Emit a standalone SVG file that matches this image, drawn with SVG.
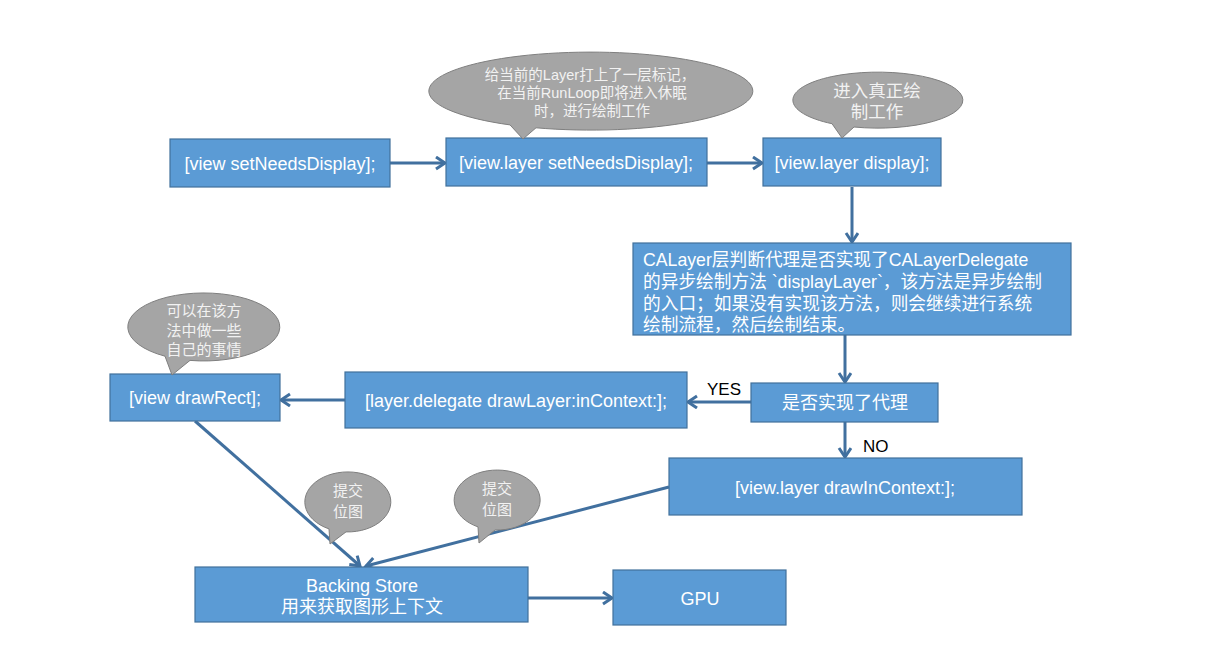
<svg xmlns="http://www.w3.org/2000/svg" width="1216" height="659" viewBox="0 0 1216 659">
<defs>
<marker id="arr" markerUnits="userSpaceOnUse" markerWidth="16" markerHeight="16" refX="11" refY="7" orient="auto">
<path d="M2,1 L11,7 L2,13" fill="none" stroke="#41709f" stroke-width="3" stroke-linejoin="miter"/>
</marker>
<style>
.box{fill:#5b9bd5;stroke:#41719c;stroke-width:1.2}
.bt{fill:#ffffff;font-family:"Liberation Sans","Noto Sans CJK SC",sans-serif;font-size:18px;text-anchor:middle}
.lt{fill:#ffffff;font-family:"Liberation Sans","Noto Sans CJK SC",sans-serif;font-size:17.7px}
.bub{fill:#a5a5a5;stroke:#7f7f7f;stroke-width:1}
.ct{fill:#f2f2f2;font-family:"Liberation Sans","Noto Sans CJK SC",sans-serif;font-size:14.5px;text-anchor:middle}
.cn{fill:none;stroke:#41709f;stroke-width:3;marker-end:url(#arr)}
.lab{fill:#000000;font-family:"Liberation Sans",sans-serif;font-size:17px}
</style>
</defs>
<rect width="1216" height="659" fill="#ffffff"/>
<g id="connectors">
<line class="cn" x1="390" y1="163" x2="445" y2="163"/>
<line class="cn" x1="707" y1="163" x2="762" y2="163"/>
<line class="cn" x1="852" y1="187" x2="852" y2="242"/>
<line class="cn" x1="845" y1="335" x2="845" y2="382"/>
<line class="cn" x1="751" y1="402" x2="688" y2="402"/>
<line class="cn" x1="845" y1="422" x2="845" y2="457"/>
<line class="cn" x1="345" y1="400" x2="281" y2="400"/>
<line class="cn" x1="195" y1="421" x2="360" y2="566"/>
<line class="cn" x1="669" y1="487" x2="366" y2="566"/>
<line class="cn" x1="528" y1="598" x2="612" y2="598"/>
<text class="lab" x="707" y="395">YES</text>
<text class="lab" x="863" y="452">NO</text>
</g>
<g id="n1">
<rect class="box" x="170" y="139" width="220" height="48"/>
<text class="bt" x="280" y="170">[view setNeedsDisplay];</text>
</g>
<g id="n2">
<rect class="box" x="446" y="138" width="261" height="48"/>
<text class="bt" x="576" y="169">[view.layer setNeedsDisplay];</text>
</g>
<g id="n3">
<rect class="box" x="763" y="138" width="178" height="48"/>
<text class="bt" x="852" y="169">[view.layer display];</text>
</g>
<g id="n4">
<rect class="box" x="633" y="243" width="438" height="92"/>
<text class="lt" x="643" y="266">CALayer层判断代理是否实现了CALayerDelegate</text>
<text class="lt" x="643" y="288">的异步绘制方法 `displayLayer`，该方法是异步绘制</text>
<text class="lt" x="643" y="310">的入口；如果没有实现该方法，则会继续进行系统</text>
<text class="lt" x="643" y="331">绘制流程，然后绘制结束。</text>
</g>
<g id="n5">
<rect class="box" x="751" y="383" width="187" height="39"/>
<text class="bt" x="845" y="409">是否实现了代理</text>
</g>
<g id="n6">
<rect class="box" x="669" y="458" width="353" height="57"/>
<text class="bt" x="845" y="494">[view.layer drawInContext:];</text>
</g>
<g id="n7">
<rect class="box" x="345" y="372" width="342" height="56"/>
<text class="bt" x="516" y="407">[layer.delegate drawLayer:inContext:];</text>
</g>
<g id="n8">
<rect class="box" x="110" y="374" width="170" height="47"/>
<text class="bt" x="195" y="404">[view drawRect];</text>
</g>
<g id="n9">
<rect class="box" x="195" y="567" width="333" height="55"/>
<text class="bt" x="362" y="592">Backing Store</text>
<text class="bt" x="362" y="613">用来获取图形上下文</text>
</g>
<g id="n10">
<rect class="box" x="613" y="570" width="173" height="55"/>
<text class="bt" x="700" y="605">GPU</text>
</g>
<g id="c1">
<path class="bub" d="M536,127.8 A162 39 0 1 0 510,124.9 L523,139 Z"/>
<text class="ct" x="590" y="80">给当前的Layer打上了一层标记，</text>
<text class="ct" x="592" y="98">在当前RunLoop即将进入休眠</text>
<text class="ct" x="592" y="116">时，进行绘制工作</text>
</g>
<g id="c2">
<path class="bub" d="M854,127 A85 28 0 1 0 832,123.7 L842,138 Z"/>
<text class="ct" x="877" y="97" style="font-size:17.5px">进入真正绘</text>
<text class="ct" x="877" y="118" style="font-size:17.5px">制工作</text>
</g>
<g id="c3">
<path class="bub" d="M190,360.4 A76 34 0 1 0 165,356.2 L172,375 Z"/>
<text class="ct" x="204" y="316" style="font-size:15px">可以在该方</text>
<text class="ct" x="204" y="336" style="font-size:15px">法中做一些</text>
<text class="ct" x="204" y="355" style="font-size:15px">自己的事情</text>
</g>
<g id="c4">
<path class="bub" d="M346,531.9 A43 30 0 1 0 329,528.9 L330,544 Z"/>
<text class="ct" x="348" y="496" style="font-size:15px">提交</text>
<text class="ct" x="348" y="517" style="font-size:15px">位图</text>
</g>
<g id="c5">
<path class="bub" d="M495,530 A43 30 0 1 0 478,526.9 L479,543 Z"/>
<text class="ct" x="497" y="494" style="font-size:15px">提交</text>
<text class="ct" x="497" y="515" style="font-size:15px">位图</text>
</g>
</svg>
